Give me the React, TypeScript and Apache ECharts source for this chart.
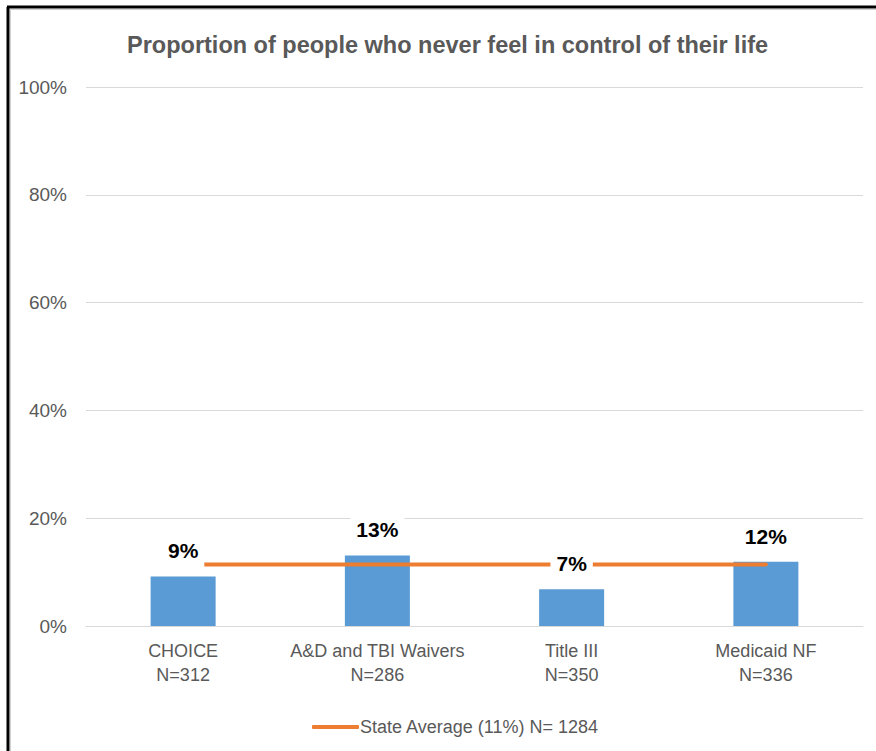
import React, { useEffect, useRef } from 'react';
import * as echarts from 'echarts';

const titleText = 'Proportion of people who never feel in control of their life';
const categories = ['CHOICE\nN=312', 'A&D and TBI Waivers\nN=286', 'Title III\nN=350', 'Medicaid NF\nN=336'];
const programValues = [9.2, 13.1, 6.8, 11.9];
const stateAverageName = 'State Average (11%) N= 1284';
const stateAverageValues = [11.4, 11.4, 11.4, 11.4];

const FONT = "'Liberation Sans', Arial, sans-serif";
const GRAY = '#595959';

export default function App() {
  const ref = useRef<HTMLDivElement>(null);
  useEffect(() => {
    document.body.style.margin = '0';
    if (!ref.current) return;
    const chart = echarts.init(ref.current, undefined, { renderer: 'svg' });
    chart.setOption({
      animation: false,
      backgroundColor: '#ffffff',
      textStyle: { fontFamily: FONT },
      title: {
        text: titleText,
        left: 122,
        top: 28,
        textStyle: { fontFamily: FONT, fontSize: 23.5, fontWeight: 'bold', color: GRAY },
      },
      grid: { left: 86, right: 13, top: 87, bottom: 125, containLabel: false },
      legend: {
        data: [stateAverageName],
        left: 307,
        top: 713,
        icon: 'roundRect',
        itemWidth: 47,
        itemHeight: 4,
        textStyle: { fontFamily: FONT, fontSize: 18, color: GRAY, padding: [0, 0, 0, -4] },
      },
      xAxis: {
        type: 'category',
        data: categories,
        axisTick: { show: false },
        axisLine: { lineStyle: { color: '#d9d9d9', width: 1 } },
        axisLabel: { fontFamily: FONT, fontSize: 18, color: GRAY, lineHeight: 24, margin: 13, interval: 0 },
      },
      yAxis: {
        type: 'value',
        min: 0,
        max: 100,
        interval: 20,
        axisLine: { show: false },
        axisTick: { show: false },
        splitLine: { lineStyle: { color: '#d9d9d9', width: 1 } },
        axisLabel: { fontFamily: FONT, fontSize: 19, color: GRAY, margin: 19, formatter: '{value}%' },
      },
      series: [
        {
          type: 'bar',
          name: 'Programs',
          data: programValues,
          barWidth: 65,
          z: 2,
          itemStyle: { color: '#5B9BD5' },
        },
        {
          type: 'line',
          name: stateAverageName,
          data: stateAverageValues,
          symbol: 'none',
          z: 3,
          lineStyle: { color: '#ED7D31', width: 4, cap: 'round' },
          itemStyle: { color: '#ED7D31' },
        },
        {
          type: 'bar',
          name: 'labels',
          data: programValues,
          barWidth: 65,
          barGap: '-100%',
          z: 4,
          silent: true,
          itemStyle: { color: 'rgba(0,0,0,0)' },
          label: {
            show: true,
            position: 'top',
            distance: 5,
            formatter: (p: any) => Math.round(p.value) + '%',
            fontFamily: FONT,
            fontSize: 21,
            fontWeight: 'bold',
            color: '#000000',
            backgroundColor: '#ffffff',
            padding: [2, 6, 10, 6],
          },
        },
      ],
      graphic: [
        { type: 'line', shape: { x1: 8, y1: 7, x2: 8, y2: 751 }, style: { stroke: '#000', lineWidth: 3 }, z: 10 },
        { type: 'line', shape: { x1: 7, y1: 7, x2: 876, y2: 7 }, style: { stroke: '#000', lineWidth: 3 }, z: 10 },
        { type: 'line', shape: { x1: 10.5, y1: 9, x2: 10.5, y2: 751 }, style: { stroke: '#d0d0d0', lineWidth: 1 }, z: 10 },
        { type: 'line', shape: { x1: 10, y1: 9.5, x2: 876, y2: 9.5 }, style: { stroke: '#d0d0d0', lineWidth: 1 }, z: 10 },
      ],
    });
    return () => chart.dispose();
  }, []);
  return <div ref={ref} style={{ width: 876, height: 751 }} />;
}
